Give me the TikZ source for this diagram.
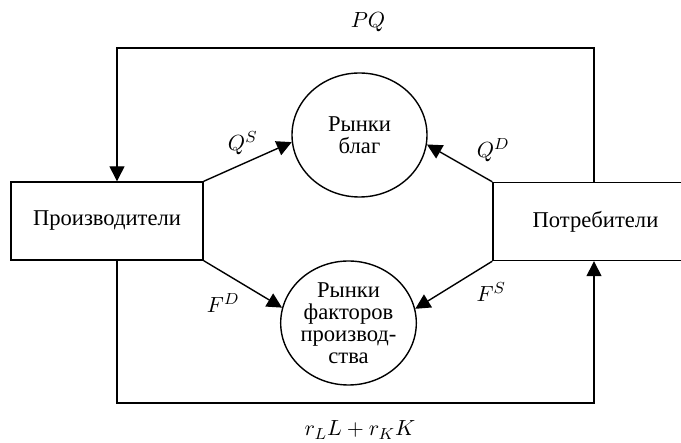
\documentclass[tikz,border=0pt]{standalone}
\usepackage{fontspec}
\setmainfont{Liberation Serif}
\usepackage{tikz}
\usetikzlibrary{arrows.meta, positioning, shapes.geometric, calc}

\begin{document}
\begin{tikzpicture}[x=0.5pt, y=-0.5pt, line width=0.7pt,
    font=\fontsize{11.3}{11}\selectfont,
    flow/.style={-{Triangle[length=7.5pt, width=7.5pt]}},
    agent/.style={draw, rectangle, minimum height=39pt},
    market/.style={draw, ellipse, inner sep=0pt, align=center,
      minimum width=67.5pt, minimum height=62pt}]
  \useasboundingbox (0,0) rectangle (681,443);

  % Участники и рынки
  \node[agent, minimum width=96pt] (prod) at (107,221) {Производители};
  \node[agent, minimum width=102.5pt] (cons) at (595.5,221.5) {Потребители};
  \node[market] (goods) at (359.5,135) {Рынки\\благ};
  \node[market] (factors) at (348.5,323) {Рынки\\факторов\\производ-\\ства};

  % Внешний кругооборот
  \coordinate (tl) at (117,48);
  \coordinate (tr) at (594,48);
  \coordinate (bl) at (117,403);
  \coordinate (br) at (594,403);
  \node (pq) at (368,22) {$PQ$};
  \node (inc) at (360,430) {$r_L L + r_K K$};
  \draw[flow] (cons.north -| tr) -- (tr) -- (tl) -- (prod.north -| tl);
  \draw[flow] (prod.south -| bl) -- (bl) -- (br) -- (cons.south -| br);

  % Потоки к рынкам
  \draw[flow] (prod.north east) -- (goods.186)
    node[midway, above, xshift=-2.5pt] (qs) {$Q^S$};
  \draw[flow] (cons.north west) -- (goods.352)
    node[pos=0.35, above right] (qd) {$Q^D$};
  \draw[flow] (prod.south east) -- (factors.167)
    node[pos=0.55, below left] (fd) {$F^D$};
  \draw[flow] (cons.south west) -- (factors.12.5)
    node[pos=0.3, below right] (fs) {$F^S$};
\end{tikzpicture}
\end{document}
